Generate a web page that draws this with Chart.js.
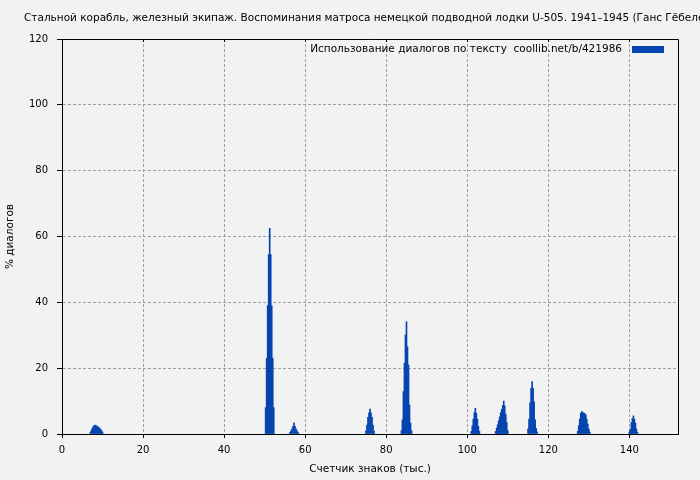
<!DOCTYPE html>
<html>
<head>
<meta charset="utf-8">
<script src="https://cdn.jsdelivr.net/npm/chart.js@4.4.0/dist/chart.umd.min.js"></script>
<style>
    body { margin: 0; background: #f2f2f2; }
    #wrap { width: 700px; height: 480px; }
</style>
</head>
<body>
<div id="wrap"><canvas id="dialogChart" width="700" height="480"></canvas></div>
<script>
// Chart text
const chartTitle = 'Стальной корабль, железный экипаж. Воспоминания матроса немецкой подводной лодки U-505. 1941–1945 (Ганс Гёбелер)';
const seriesLabel = 'Использование диалогов по тексту  coollib.net/b/421986';
const xAxisTitle = 'Счетчик знаков (тыс.)';
const yAxisTitle = '% диалогов';

// Text position, thousands of characters (only non-zero samples)
const textPosK = [
    7.0, 7.25, 7.5, 7.75, 8.0, 8.25, 8.5, 8.75, 9.0, 9.25, 9.5, 9.75, 10.0,
    50.25, 50.5, 50.75, 51.0, 51.25, 51.5, 51.75, 52.0, 52.25,
    56.25, 56.5, 56.75, 57.0, 57.25, 57.5, 57.75, 58.0, 58.25,
    75.0, 75.25, 75.5, 75.75, 76.0, 76.25, 76.5, 76.75, 77.0,
    83.75, 84.0, 84.25, 84.5, 84.75, 85.0, 85.25, 85.5, 85.75, 86.0, 86.25,
    101.0, 101.25, 101.5, 101.75, 102.0, 102.25, 102.5, 102.75, 103.0,
    107.0, 107.25, 107.5, 107.75, 108.0, 108.25, 108.5, 108.75, 109.0, 109.25, 109.5, 109.75, 110.0,
    115.0, 115.25, 115.5, 115.75, 116.0, 116.25, 116.5, 116.75, 117.0, 117.25,
    127.25, 127.5, 127.75, 128.0, 128.25, 128.5, 128.75, 129.0, 129.25, 129.5, 129.75, 130.0, 130.25,
    140.0, 140.25, 140.5, 140.75, 141.0, 141.25, 141.5, 141.75, 142.0
];

// Share of dialogue, percent
const dialogPct = [
    0.5, 1.2, 1.8, 2.3, 2.6, 2.7, 2.5, 2.3, 2.1, 1.8, 1.5, 1.1, 0.6,
    8, 23, 39, 54.5, 62.5, 54.5, 39, 23, 8,
    0.5, 1.0, 1.6, 2.3, 3.4, 2.3, 1.6, 1.0, 0.5,
    1.0, 2.7, 5.1, 6.4, 7.6, 6.4, 5.1, 2.7, 1.0,
    1.0, 4.3, 12.9, 21.5, 30.1, 34.1, 26.5, 21, 8.8, 3.3, 1.0,
    0.8, 2.5, 4.5, 6.5, 7.8, 6.3, 4.5, 2.3, 0.8,
    0.8, 1.8, 2.8, 4.0, 5.2, 6.5, 7.5, 8.6, 10.0, 8.5, 6.0, 3.5, 1.0,
    1.5, 4.5, 9.5, 13.9, 15.9, 13.9, 9.8, 4.3, 1.7, 0.6,
    0.8, 2.5, 4.5, 6.3, 6.8, 6.6, 6.3, 6.2, 5.8, 4.5, 3.0, 1.5, 0.6,
    0.6, 1.5, 3.5, 4.7, 5.5, 4.5, 3.3, 1.5, 0.5
];

const xMax = 152;
const yMax = 120;
const tickStep = 20;
const barColor = '#0645b0';
const gridColor = '#a0a0a0';
const fontFamily = '"DejaVu Sans", Verdana, sans-serif';

// Title drawn from the left edge, lets the long text run off the canvas
const titlePlugin = {
    id: 'leftTitle',
    afterDraw(chart) {
        const ctx = chart.ctx;
        ctx.save();
        ctx.font = '10.5px ' + fontFamily;
        ctx.fillStyle = '#000';
        ctx.textAlign = 'left';
        ctx.textBaseline = 'middle';
        ctx.fillText(chartTitle, 24, 18);
        ctx.restore();
    }
};

// Black frame around the plot with small inward ticks on top
const framePlugin = {
    id: 'frame',
    afterDatasetsDraw(chart) {
        const { ctx, chartArea } = chart;
        const xScale = chart.scales.x;
        ctx.save();
        ctx.strokeStyle = '#000';
        ctx.lineWidth = 1;
        ctx.beginPath();
        ctx.moveTo(chartArea.left, Math.round(chartArea.top) + 0.5);
        ctx.lineTo(chartArea.right + 0.5, Math.round(chartArea.top) + 0.5);
        ctx.lineTo(chartArea.right + 0.5, chartArea.bottom);
        ctx.stroke();
        xScale.ticks.forEach(t => {
            const px = Math.round(xScale.getPixelForValue(t.value)) + 0.5;
            ctx.beginPath();
            ctx.moveTo(px, chartArea.top);
            ctx.lineTo(px, chartArea.top + 3);
            ctx.stroke();
        });
        ctx.restore();
    }
};

// Legend sits inside the plot, text first then the colour box
const legendPlugin = {
    id: 'insideLegend',
    afterDraw(chart) {
        const { ctx, chartArea } = chart;
        const boxX = chartArea.right - 46;
        const boxY = chartArea.top + 7;
        ctx.save();
        ctx.fillStyle = barColor;
        ctx.fillRect(boxX, boxY, 32, 7);
        ctx.font = '10.5px ' + fontFamily;
        ctx.fillStyle = '#000';
        ctx.textAlign = 'right';
        ctx.textBaseline = 'middle';
        ctx.fillText(chart.data.datasets[0].label, boxX - 10, boxY + 3);
        ctx.restore();
    }
};

const points = textPosK.map((x, i) => ({ x: x, y: dialogPct[i] }));

// only keep the round ticks (drop the automatic one at the max)
function keepRoundTicks(scale) {
    scale.ticks = scale.ticks.filter(t => t.value % tickStep === 0);
}

new Chart(document.getElementById('dialogChart'), {
    type: 'bar',
    data: {
        datasets: [{
            label: seriesLabel,
            data: points,
            backgroundColor: barColor,
            borderWidth: 0,
            barPercentage: 1,
            categoryPercentage: 1
        }]
    },
    options: {
        responsive: false,
        animation: false,
        events: [],
        layout: { padding: { left: 0, top: 39, right: 22, bottom: 0 } },
        plugins: {
            legend: { display: false },
            title: { display: false },
            tooltip: { enabled: false }
        },
        scales: {
            x: {
                type: 'linear',
                min: 0,
                max: xMax,
                offset: false,
                afterFit: scale => { scale.height = 46; },
                afterBuildTicks: keepRoundTicks,
                ticks: {
                    stepSize: tickStep,
                    color: '#000',
                    padding: 6,
                    font: { family: fontFamily, size: 10 }
                },
                grid: {
                    offset: false,
                    color: gridColor,
                    tickColor: '#000',
                    tickBorderDash: [],
                    tickLength: 4
                },
                border: { color: '#000', width: 1, dash: [3, 2] },
                title: {
                    display: true,
                    text: xAxisTitle,
                    color: '#000',
                    font: { family: fontFamily, size: 10.5 }
                }
            },
            y: {
                min: 0,
                max: yMax,
                afterFit: scale => { scale.width = 62; },
                ticks: {
                    stepSize: tickStep,
                    color: '#000',
                    padding: 9,
                    font: { family: fontFamily, size: 10 }
                },
                grid: {
                    color: gridColor,
                    tickColor: '#000',
                    tickBorderDash: [],
                    tickLength: 5
                },
                border: { color: '#000', width: 1, dash: [3, 2] },
                title: {
                    display: true,
                    text: yAxisTitle,
                    color: '#000',
                    font: { family: fontFamily, size: 10.5 }
                }
            }
        }
    },
    plugins: [titlePlugin, framePlugin, legendPlugin]
});
</script>
</body>
</html>
